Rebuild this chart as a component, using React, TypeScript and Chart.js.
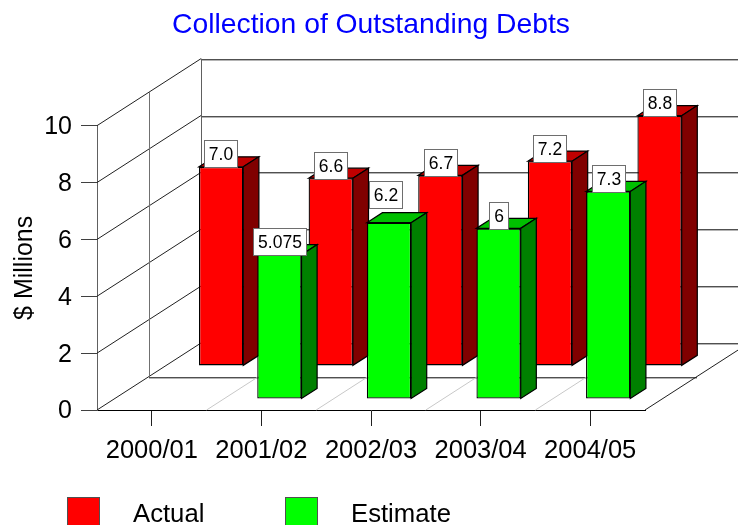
import React, { useEffect, useRef } from "react";
import { Chart, registerables } from "chart.js";

Chart.register(...registerables);

const title = "Collection of Outstanding Debts";
const yAxisTitle = "$ Millions";
const categories = ["2000/01", "2001/02", "2002/03", "2003/04", "2004/05"];
const actualValues = [7.0, 6.6, 6.7, 7.2, 8.8];
const estimateValues = [null, 5.075, 6.2, 6, 7.3];
const actualLabels = ["7.0", "6.6", "6.7", "7.2", "8.8"];
const estimateLabels = [null, "5.075", "6.2", "6", "7.3"];

const FONT = '"Liberation Sans", Arial, sans-serif';

// Projection of the box: how far the back wall sits from the front plane.
const DEPTH_X = 104;
const DEPTH_Y = -67;
const BAR_DEPTH = 0.15;
const ROW_NUDGE_X = 0.4;
const ROW_NUDGE_Y = 0.3;

type Series3D = { depth: number; top: string; side: string; labels: (string | null)[] };
const rows: Series3D[] = [
  { depth: 0.663, top: "#c00000", side: "#800000", labels: actualLabels },
  { depth: 0.169, top: "#00c000", side: "#008000", labels: estimateLabels },
];

const wallLine = (ctx: CanvasRenderingContext2D, x1: number, y1: number, x2: number, y2: number, color: string, width = 1) => {
  ctx.strokeStyle = color;
  ctx.lineWidth = width;
  ctx.beginPath();
  ctx.moveTo(x1, y1);
  ctx.lineTo(x2, y2);
  ctx.stroke();
};

// A horizontal wall edge: a dark hairline with a soft grey one under it.
const wallRule = (ctx: CanvasRenderingContext2D, x1: number, x2: number, y: number) => {
  const py = Math.round(y);
  wallLine(ctx, x1, py + 1.5, x2, py + 1.5, "#b4b4b4");
  wallLine(ctx, x1, py + 0.5, x2, py + 0.5, "#505050");
};

const face = (ctx: CanvasRenderingContext2D, pts: number[][], fill: string) => {
  ctx.beginPath();
  pts.forEach(([x, y], i) => (i ? ctx.lineTo(x, y) : ctx.moveTo(x, y)));
  ctx.closePath();
  ctx.fillStyle = fill;
  ctx.fill();
  ctx.strokeStyle = "#000000";
  ctx.lineWidth = 1.2;
  ctx.stroke();
};

const box3D = {
  id: "box3D",
  afterLayout(chart: any) {
    // The title is centred over the whole canvas, not over the plot.
    if (chart.titleBlock) {
      chart.titleBlock.left = 2;
      chart.titleBlock.right = chart.width + 2;
    }
  },
  beforeDatasetsDraw(chart: any) {
    const { ctx, chartArea, scales } = chart;
    const { left, right, bottom } = chartArea;
    const y = scales.y;
    const x = scales.x;
    ctx.save();
    const backLeft = left + DEPTH_X;
    const backRight = right + DEPTH_X;
    // Back wall rules and its left edge.
    y.ticks.forEach((t: any) => {
      const py = y.getPixelForValue(t.value) + DEPTH_Y;
      wallRule(ctx, backLeft, backRight, py);
    });
    wallLine(ctx, Math.round(backLeft) + 0.5, y.top + DEPTH_Y, Math.round(backLeft) + 0.5, bottom + DEPTH_Y, "#606060");
    // Side wall rules running from the front plane to the back wall.
    y.ticks.forEach((t: any) => {
      const py = y.getPixelForValue(t.value);
      wallLine(ctx, left, py, backLeft, py + DEPTH_Y, "#202020");
    });
    // Divider between the two rows of bars.
    const midX = DEPTH_X / 2;
    const midY = DEPTH_Y / 2;
    wallLine(ctx, Math.round(left + midX) + 0.5, y.top + midY, Math.round(left + midX) + 0.5, bottom + midY, "#707070");
    wallRule(ctx, left + midX, right + midX, bottom + midY);
    // Floor lines between categories.
    for (let i = 0; i < categories.length - 1; i++) {
      const px = (x.getPixelForValue(i) + x.getPixelForValue(i + 1)) / 2;
      wallLine(ctx, px, bottom, px + midX, bottom + midY, "#c8c8c8");
    }
    // Right floor edge.
    wallLine(ctx, right, bottom, backRight, bottom + DEPTH_Y, "#202020");
    ctx.restore();
  },
  beforeDatasetDraw(chart: any, args: any) {
    const { ctx } = chart;
    const row = rows[args.index];
    const sx = DEPTH_X * row.depth + ROW_NUDGE_X;
    const sy = DEPTH_Y * row.depth + ROW_NUDGE_Y;
    const bx = DEPTH_X * BAR_DEPTH;
    const by = DEPTH_Y * BAR_DEPTH;
    const values = chart.data.datasets[args.index].data;
    ctx.save();
    ctx.translate(sx, sy);
    // Side and top faces go under the front face the bar element paints next.
    args.meta.data.forEach((bar: any, i: number) => {
      if (values[i] === null) return;
      const l = bar.x - bar.width / 2;
      const r = bar.x + bar.width / 2;
      face(ctx, [[l, bar.y], [l + bx, bar.y + by], [r + bx, bar.y + by], [r, bar.y]], row.top);
      face(ctx, [[r, bar.y], [r + bx, bar.y + by], [r + bx, bar.base + by], [r, bar.base]], row.side);
    });
  },
  afterDatasetDraw(chart: any) {
    chart.ctx.restore();
  },
  afterDatasetsDraw(chart: any) {
    const { ctx } = chart;
    ctx.save();
    ctx.font = `17.5px ${FONT}`;
    ctx.textAlign = "center";
    ctx.textBaseline = "middle";
    rows.forEach((row, index) => {
      const meta = chart.getDatasetMeta(index);
      meta.data.forEach((bar: any, i: number) => {
        const text = row.labels[i];
        if (text === null) return;
        // The 6.2 tag is pushed clear of the neighbouring red bar.
        const clear = index === 1 && i === 2;
        const cx = bar.x + DEPTH_X * row.depth + ROW_NUDGE_X + (clear ? -3.5 : 0);
        const bottom = bar.y + DEPTH_Y * row.depth + ROW_NUDGE_Y - (clear ? 15.5 : 0);
        const w = ctx.measureText(text).width + 9;
        const h = 26.5;
        const bl = Math.round(cx - w / 2) + 0.5;
        const bt = Math.round(bottom - h) + 0.5;
        ctx.fillStyle = "#ffffff";
        ctx.fillRect(bl, bt, Math.round(w), Math.round(h));
        ctx.strokeStyle = "#6e6e6e";
        ctx.lineWidth = 1;
        ctx.strokeRect(bl, bt, Math.round(w), Math.round(h));
        ctx.fillStyle = "#000000";
        ctx.fillText(text, bl + Math.round(w) / 2, bt + Math.round(h) / 2 + 1);
      });
    });
    ctx.restore();
  },
  afterDraw(chart: any) {
    // Legend keys sit far from their text, so they are laid out by hand.
    const { ctx } = chart;
    const slots = [{ box: 67, text: 133 }, { box: 285, text: 351 }];
    ctx.save();
    ctx.font = `25.7px ${FONT}`;
    ctx.textAlign = "left";
    ctx.textBaseline = "alphabetic";
    chart.data.datasets.forEach((ds: any, i: number) => {
      ctx.fillStyle = ds.backgroundColor;
      ctx.fillRect(slots[i].box, 497, 33, 33);
      ctx.strokeStyle = "#505050";
      ctx.lineWidth = 1;
      ctx.strokeRect(slots[i].box + 0.5, 497.5, 32, 32);
      ctx.fillStyle = "#000000";
      ctx.fillText(ds.label, slots[i].text, 522);
    });
    ctx.restore();
  },
};

export default function App() {
  const ref = useRef<HTMLCanvasElement>(null);
  useEffect(() => {
    const chart = new Chart(ref.current as HTMLCanvasElement, {
      type: "bar",
      plugins: [box3D],
      data: {
        labels: categories,
        datasets: [
          {
            label: "Actual",
            data: actualValues,
            backgroundColor: "#ff0000",
            borderColor: "#000000",
            borderWidth: 1.3,
            borderSkipped: false,
            order: 1,
            clip: false,
          },
          {
            label: "Estimate",
            data: estimateValues,
            backgroundColor: "#00ff00",
            borderColor: "#000000",
            borderWidth: 1.3,
            borderSkipped: false,
            order: 0,
            clip: false,
          },
        ],
      },
      options: {
        responsive: false,
        animation: false,
        events: [],
        layout: { padding: { left: 0, right: 93, top: 0, bottom: 0 } },
        datasets: { bar: { grouped: false, barPercentage: 0.404, categoryPercentage: 1 } },
        plugins: {
          legend: { display: false },
          tooltip: { enabled: false },
          title: {
            display: true,
            text: title,
            color: "#0000ff",
            font: { family: FONT, size: 28.3, weight: "normal", lineHeight: 1.2 },
            padding: { top: 8, bottom: 83.7 },
          },
        },
        scales: {
          x: {
            offset: true,
            afterFit: (s: any) => { s.height = 115; },
            grid: { offset: false, drawOnChartArea: false, tickLength: 16, tickColor: "#202020", tickWidth: 1 },
            border: { color: "#000000", width: 1 },
            ticks: {
              color: "#000000",
              font: { family: FONT, size: 25.5 },
              padding: 10,
              maxRotation: 0,
              autoSkip: false,
            },
          },
          y: {
            min: 0,
            max: 10,
            afterFit: (s: any) => { s.width = 97; },
            grid: { drawOnChartArea: false, tickLength: 16, tickColor: "#404040", tickWidth: 1 },
            border: { color: "#606060", width: 1 },
            ticks: {
              stepSize: 2,
              color: "#000000",
              font: { family: FONT, size: 25 },
              padding: 9,
              labelOffset: 1.5,
            },
            title: {
              display: true,
              text: yAxisTitle,
              color: "#000000",
              font: { family: FONT, size: 25, lineHeight: 1.2 },
              padding: { top: 10, bottom: 0 },
            },
          },
        },
      } as any,
    });
    return () => chart.destroy();
  }, []);
  return (
    <div style={{ position: "absolute", left: 0, top: 0, width: 738, height: 525, overflow: "hidden", background: "#ffffff" }}>
      <canvas ref={ref} width={738} height={525} style={{ display: "block" }} />
    </div>
  );
}
